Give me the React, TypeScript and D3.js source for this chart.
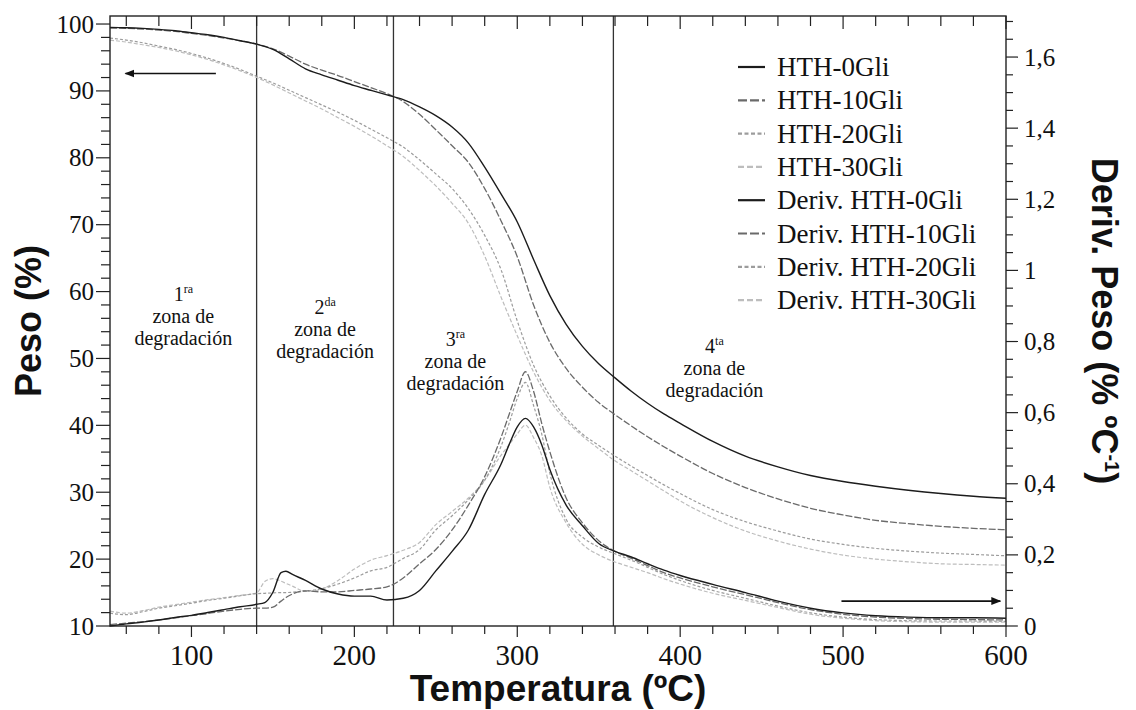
import React from 'react';
import * as d3 from 'd3';

// ---------- DATA ----------
const tgTemps = [50, 60, 70, 80, 90, 100, 110, 120, 130, 140, 150, 160, 170, 180, 190, 200, 210, 220, 230, 240, 250, 260, 270, 280, 290, 300, 310, 320, 330, 340, 350, 360, 370, 380, 390, 400, 420, 440, 460, 480, 500, 520, 540, 560, 580, 600];
const tgHTH0 = [99.5, 99.45, 99.35, 99.2, 99.0, 98.7, 98.4, 98.0, 97.5, 97.0, 96.2, 94.8, 93.3, 92.4, 91.6, 90.8, 90.1, 89.4, 88.7, 87.6, 86.3, 84.6, 82.2, 78.6, 74.6, 70.4, 64.8, 59.4, 55.1, 51.8, 49.2, 47.1, 45.1, 43.3, 41.7, 40.3, 37.6, 35.4, 33.8, 32.5, 31.6, 30.9, 30.3, 29.8, 29.4, 29.1];
const tgHTH10 = [99.4, 99.35, 99.25, 99.1, 98.9, 98.6, 98.3, 97.9, 97.5, 97.0, 96.3, 95.2, 94.0, 93.1, 92.3, 91.4, 90.5, 89.6, 88.4, 86.5, 84.2, 81.8, 79.3, 75.4, 70.6, 65.2, 58.0, 52.4, 48.5, 45.7, 43.4, 41.6, 39.9, 38.3, 36.8, 35.4, 32.8, 30.7, 29.0, 27.6, 26.6, 25.8, 25.3, 24.9, 24.6, 24.4];
const tgHTH20 = [97.9, 97.6, 97.2, 96.7, 96.2, 95.6, 94.9, 94.1, 93.2, 92.2, 91.2, 90.1, 89.0, 87.9, 86.8, 85.6, 84.3, 83.0, 81.6, 79.7, 77.6, 75.4, 72.4, 68.4, 63.3, 55.6, 49.0, 44.4, 41.1, 38.7, 37.0, 35.4, 33.9, 32.5, 31.1, 29.8, 27.4, 25.6, 24.2, 23.0, 22.2, 21.6, 21.2, 20.9, 20.7, 20.5];
const tgHTH30 = [97.6, 97.3, 96.9, 96.5, 96.0, 95.4, 94.7, 93.9, 93.0, 92.0, 90.9, 89.7, 88.5, 87.3, 86.0, 84.7, 83.3, 81.8, 80.2, 78.1, 75.8, 73.2, 70.2, 65.3, 59.2, 53.4, 48.0, 43.7, 40.7, 38.4, 36.5, 34.7, 33.2, 31.7, 30.2, 28.7, 26.2, 24.2, 22.7, 21.5, 20.6, 20.0, 19.6, 19.3, 19.2, 19.1];

const dTemps = [50, 60, 70, 80, 90, 100, 110, 120, 130, 140, 145, 150, 155, 158, 162, 170, 180, 190, 200, 210, 220, 230, 240, 250, 260, 270, 280, 290, 295, 300, 305, 310, 315, 320, 330, 340, 350, 360, 370, 380, 390, 400, 420, 440, 460, 480, 500, 520, 540, 560, 580, 600];
const dHTH0 = [0.0, 0.006, 0.011, 0.017, 0.024, 0.030, 0.038, 0.046, 0.054, 0.061, 0.066, 0.095, 0.15, 0.154, 0.145, 0.128, 0.104, 0.09, 0.084, 0.084, 0.073, 0.078, 0.10, 0.155, 0.21, 0.27, 0.37, 0.455, 0.51, 0.56, 0.584, 0.56, 0.51, 0.44, 0.34, 0.282, 0.232, 0.21, 0.194, 0.175, 0.157, 0.142, 0.117, 0.094, 0.07, 0.05, 0.037, 0.029, 0.025, 0.023, 0.023, 0.022];
const dHTH10 = [0.004, 0.008, 0.012, 0.017, 0.023, 0.029, 0.035, 0.042, 0.047, 0.05, 0.05, 0.053, 0.07, 0.08, 0.09, 0.099, 0.096, 0.096, 0.10, 0.104, 0.11, 0.135, 0.175, 0.215, 0.27, 0.34, 0.42, 0.53, 0.595, 0.66, 0.715, 0.66, 0.57, 0.49, 0.36, 0.29, 0.24, 0.21, 0.19, 0.17, 0.15, 0.135, 0.11, 0.088, 0.066, 0.046, 0.033, 0.025, 0.021, 0.019, 0.018, 0.017];
const dHTH20 = [0.036, 0.032, 0.04, 0.05, 0.057, 0.064, 0.072, 0.078, 0.085, 0.091, 0.092, 0.093, 0.094, 0.094, 0.095, 0.098, 0.105, 0.118, 0.135, 0.155, 0.165, 0.19, 0.215, 0.27, 0.31, 0.355, 0.41, 0.505, 0.57, 0.64, 0.685, 0.62, 0.54, 0.43, 0.3, 0.25, 0.222, 0.203, 0.185, 0.165, 0.145, 0.128, 0.1, 0.078, 0.056, 0.037, 0.025, 0.018, 0.015, 0.014, 0.014, 0.013];
const dHTH30 = [0.042, 0.036, 0.043, 0.053, 0.06, 0.067, 0.074, 0.08, 0.086, 0.093, 0.125, 0.133, 0.126, 0.12, 0.112, 0.097, 0.104, 0.128, 0.16, 0.185, 0.198, 0.213, 0.235, 0.285, 0.322, 0.36, 0.41, 0.48, 0.51, 0.54, 0.565, 0.53, 0.48, 0.39, 0.29, 0.23, 0.2, 0.18, 0.165, 0.15, 0.133, 0.118, 0.092, 0.072, 0.052, 0.033, 0.022, 0.015, 0.012, 0.011, 0.011, 0.011];

const xTickLabels = [100, 200, 300, 400, 500, 600];
const yLeftTickLabels = [10, 20, 30, 40, 50, 60, 70, 80, 90, 100];
const yRightTickLabels = [0, 0.2, 0.4, 0.6, 0.8, 1.0, 1.2, 1.4, 1.6];
const zoneBoundaries = [140, 224, 359];
const zoneOrdinals = ['1', '2', '3', '4'];
const zoneSuffixes = ['ra', 'da', 'ra', 'ta'];
const zoneLabelTemps = [95, 182, 262, 421];
const legendNames = ['HTH-0Gli', 'HTH-10Gli', 'HTH-20Gli', 'HTH-30Gli', 'Deriv. HTH-0Gli', 'Deriv. HTH-10Gli', 'Deriv. HTH-20Gli', 'Deriv. HTH-30Gli'];

// ---------- LAYOUT ----------
const W = 1136, H = 710;
const L = 110, R = 1006, T = 16, B = 626;
const SERIF = "'Times New Roman', 'Liberation Serif', Times, serif";
const SANS = "Arial, 'Liberation Sans', Helvetica, sans-serif";

const styles = [
  { color: '#1c1c1c', dash: undefined as string | undefined, width: 1.4 },
  { color: '#6a6a6a', dash: '7,2', width: 1.3 },
  { color: '#9c9c9c', dash: '3,2', width: 1.2 },
  { color: '#bdbdbd', dash: '4,2', width: 1.2 },
];

export default function App() {
  const x = d3.scaleLinear().domain([50, 600]).range([L, R]);
  const yL = d3.scaleLinear().domain([10, 101.2]).range([B, T]);
  const yR = d3.scaleLinear().domain([0, (B - T) / 355.6]).range([B, T]);

  const lineL = d3.line<[number, number]>().x(d => x(d[0])).y(d => yL(d[1])).curve(d3.curveMonotoneX);
  const lineR = d3.line<[number, number]>().x(d => x(d[0])).y(d => yR(d[1])).curve(d3.curveMonotoneX);

  const tgSeries = [tgHTH0, tgHTH10, tgHTH20, tgHTH30];
  const dSeries = [dHTH0, dHTH10, dHTH20, dHTH30];

  const xTicks = d3.range(60, 601, 20);
  const yLTicks = d3.range(10, 101, 2);
  const yRTicks = d3.range(0, 1.701, 0.05);

  const fmtR = (v: number) => (Math.abs(v - 1) < 1e-9 ? '1' : d3.format('.1f')(v).replace('.', ',').replace(/,0$/, ''));

  const zoneY = [[301, 323, 345], [314, 336, 358], [346, 368, 390], [353, 375, 397]];

  return (
    <svg width={W} height={H} style={{ position: 'absolute', left: 0, top: 0, background: '#fff' }} xmlns="http://www.w3.org/2000/svg">
      <rect x={0} y={0} width={W} height={H} fill="#fff" />
      <defs>
        <marker id="arrowHead" viewBox="0 0 10 10" refX="9" refY="5" markerWidth="10" markerHeight="10" markerUnits="userSpaceOnUse" orient="auto">
          <path d="M0,1 L10,5 L0,9 Z" fill="#111" />
        </marker>
      </defs>

      {/* zone boundaries */}
      {zoneBoundaries.map((t, i) => (
        <line key={'zb' + i} x1={x(t)} x2={x(t)} y1={T} y2={B} stroke="#333" strokeWidth={1.3} />
      ))}

      {/* derivative curves */}
      {dSeries.map((s, i) => (
        <path key={'d' + i} d={lineR(dTemps.map((t, j) => [t, s[j]] as [number, number])) || ''} fill="none"
          stroke={styles[i].color} strokeWidth={styles[i].width} strokeDasharray={styles[i].dash} />
      )).reverse()}

      {/* TG curves */}
      {tgSeries.map((s, i) => (
        <path key={'tg' + i} d={lineL(tgTemps.map((t, j) => [t, s[j]] as [number, number])) || ''} fill="none"
          stroke={styles[i].color} strokeWidth={styles[i].width} strokeDasharray={styles[i].dash} />
      )).reverse()}

      {/* frame */}
      <rect x={L} y={T} width={R - L} height={B - T} fill="none" stroke="#222" strokeWidth={1.4} />

      {/* bottom & top ticks */}
      {xTicks.map(t => {
        const major = t % 100 === 0;
        return (
          <g key={'xt' + t}>
            <line x1={x(t)} x2={x(t)} y1={B} y2={B + (major ? 11 : 8)} stroke="#222" strokeWidth={1.2} />
            <line x1={x(t)} x2={x(t)} y1={T} y2={T + (major ? 13 : 10)} stroke="#222" strokeWidth={1.2} />
          </g>
        );
      })}
      {xTickLabels.map(t => (
        <text key={'xl' + t} x={x(t)} y={665} textAnchor="middle" fontFamily={SERIF} fontSize={29} fill="#111">{t}</text>
      ))}

      {/* left ticks */}
      {yLTicks.map(v => {
        const major = v % 10 === 0;
        return <line key={'ylt' + v} x1={L} x2={L - (major ? 14 : 9)} y1={yL(v)} y2={yL(v)} stroke="#222" strokeWidth={1.2} />;
      })}
      {yLeftTickLabels.map(v => (
        <text key={'yll' + v} x={L - 16} y={yL(v) + 8.5} textAnchor="end" fontFamily={SERIF} fontSize={25} fill="#111">{v}</text>
      ))}

      {/* right ticks */}
      {yRTicks.map((v, i) => {
        const major = i % 4 === 0;
        return <line key={'yrt' + i} x1={R} x2={R + (major ? 12 : 7)} y1={yR(v)} y2={yR(v)} stroke="#222" strokeWidth={1.2} />;
      })}
      {yRightTickLabels.map(v => (
        <text key={'yrl' + v} x={R + 18} y={yR(v) + 8.5} textAnchor="start" fontFamily={SERIF} fontSize={25} fill="#111">{fmtR(v)}</text>
      ))}

      {/* axis titles */}
      <text x={(L + R) / 2} y={701} textAnchor="middle" fontFamily={SANS} fontWeight="bold" fontSize={37} fill="#111">Temperatura (ºC)</text>
      <text transform={`translate(41,${(T + B) / 2}) rotate(-90)`} textAnchor="middle" fontFamily={SANS} fontWeight="bold" fontSize={36} fill="#111">Peso (%)</text>
      <text transform={`translate(1092,${(T + B) / 2}) rotate(90)`} textAnchor="middle" fontFamily={SANS} fontWeight="bold" fontSize={36} fill="#111">
        Deriv. Peso (% ºC<tspan dy={-13} fontSize={20}>-1</tspan><tspan dy={13}>)</tspan>
      </text>

      {/* zone labels */}
      {zoneOrdinals.map((n, i) => {
        const cx = x(zoneLabelTemps[i]);
        const ys = zoneY[i];
        return (
          <g key={'zl' + i} fontFamily={SERIF} fill="#111">
            <text x={cx} y={ys[0]} textAnchor="middle" fontSize={20}>{n}<tspan dy={-8} fontSize={12}>{zoneSuffixes[i]}</tspan></text>
            <text x={cx} y={ys[1]} textAnchor="middle" fontSize={20}>zona de</text>
            <text x={cx} y={ys[2]} textAnchor="middle" fontSize={20}>degradación</text>
          </g>
        );
      })}

      {/* arrows */}
      <line x1={x(115)} x2={x(59.5)} y1={yL(92.6)} y2={yL(92.6)} stroke="#111" strokeWidth={1.6} markerEnd="url(#arrowHead)" />
      <line x1={x(499)} x2={x(596.5)} y1={yR(0.07)} y2={yR(0.07)} stroke="#111" strokeWidth={1.6} markerEnd="url(#arrowHead)" />

      {/* legend */}
      {legendNames.map((name, i) => {
        const st = styles[i % 4];
        const cy = 67 + i * 33.3;
        return (
          <g key={'lg' + i}>
            <line x1={738} x2={765} y1={cy} y2={cy} stroke={st.color} strokeWidth={2.2} strokeDasharray={st.dash ? (i % 4 === 1 ? '9,3' : i % 4 === 2 ? '4,2.5' : '6,3') : undefined} />
            <text x={777} y={cy + 9} fontFamily={SERIF} fontSize={27} fill="#111">{name}</text>
          </g>
        );
      })}
    </svg>
  );
}
